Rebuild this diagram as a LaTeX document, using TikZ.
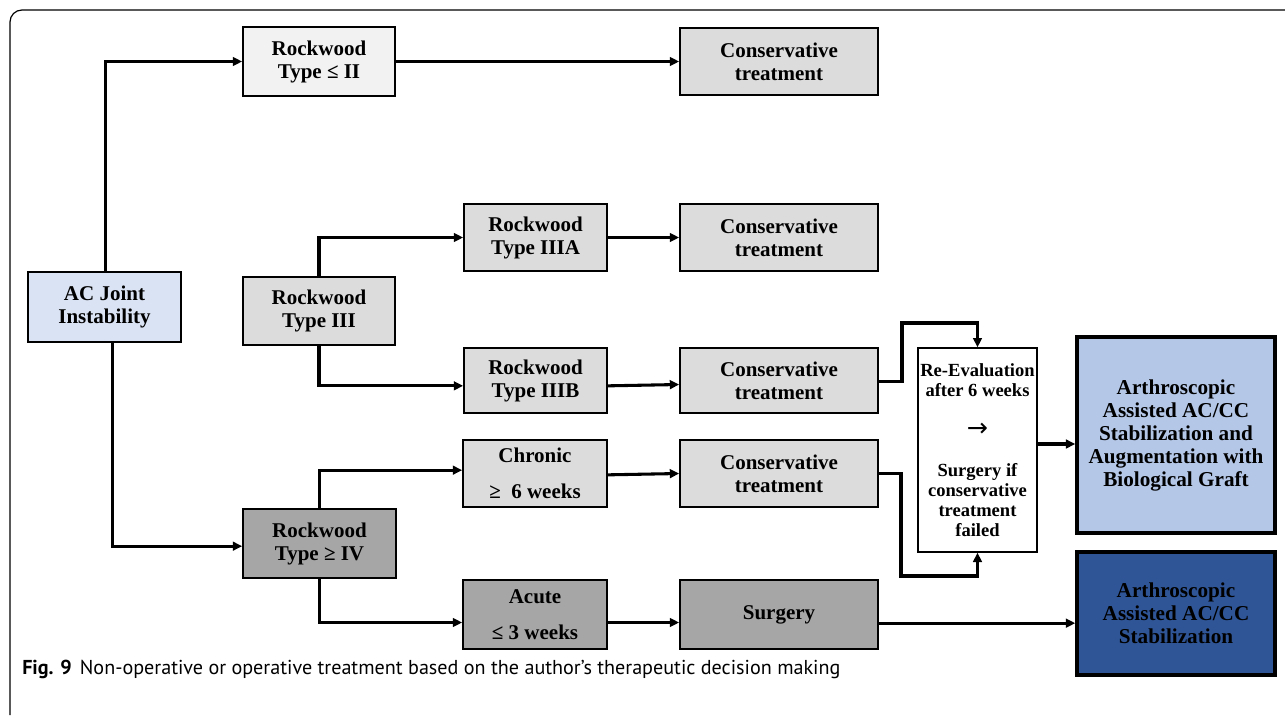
\documentclass[tikz,border=0pt]{standalone}
\usepackage{fontspec}
\setmainfont{Liberation Serif}
\newfontfamily\capfont{PT Sans}
\newfontfamily\symfont{DejaVu Sans}
\usetikzlibrary{arrows.meta}
\definecolor{acblue}{HTML}{DAE3F3}
\definecolor{vlgray}{HTML}{F2F2F2}
\definecolor{lgray}{HTML}{DCDCDC}
\definecolor{dgray}{HTML}{A6A6A6}
\definecolor{lblue}{HTML}{B4C7E7}
\definecolor{dblue}{HTML}{2F5597}
\begin{document}
\begin{tikzpicture}[x=0.75pt,y=-0.75pt,
  box/.style={draw=black,line width=1.3pt,inner sep=0pt,align=center,
    font=\fontsize{15.75pt}{17.25pt}\selectfont\bfseries},
  bigbox/.style={draw=black,line width=2.6pt,inner sep=0pt,align=center,
    font=\fontsize{15.9pt}{17.25pt}\selectfont\bfseries},
  conn/.style={line width=2.3pt,-{Triangle[length=7pt,width=6.5pt]}},
  frame/.style={line width=0.9pt}]
\useasboundingbox (0,0) rectangle (1285,715);
% frame
\draw[frame] (1285,10) -- (22,10) to[out=180,in=90] (10,22) -- (10,715);
% nodes
\node[box,fill=acblue,minimum width=114.75pt,minimum height=52.5pt] (ac) at (104.5,307) {AC Joint\\Instability};
\node[box,fill=vlgray,minimum width=114pt,minimum height=51.75pt] (r2) at (319,61.5) {Rockwood\\Type ≤ II};
\node[box,fill=lgray,minimum width=148.5pt,minimum height=50.25pt] (c1) at (779,61.5) {Conservative\\treatment};
\node[box,fill=lgray,minimum width=114pt,minimum height=51pt] (r3) at (319,311) {Rockwood\\Type III};
\node[box,fill=lgray,minimum width=107.25pt,minimum height=50.25pt] (r3a) at (535.5,237.5) {Rockwood\\Type IIIA};
\node[box,fill=lgray,minimum width=148.5pt,minimum height=50.25pt] (c2) at (779,237.5) {Conservative\\treatment};
\node[box,fill=lgray,minimum width=107.25pt,minimum height=48.75pt] (r3b) at (535.5,380.5) {Rockwood\\Type IIIB};
\node[box,fill=lgray,minimum width=148.5pt,minimum height=48.75pt] (c3) at (779,380.5) {Conservative\\treatment};
\node[box,fill=lgray,minimum width=108pt,minimum height=50.25pt] (chr) at (535,473.5) {Chronic\\[9.75pt]≥~ 6 weeks};
\node[box,fill=lgray,minimum width=148.5pt,minimum height=50.25pt] (c4) at (779,473.5) {Conservative\\treatment};
\node[box,fill=dgray,minimum width=114.75pt,minimum height=51.75pt] (r4) at (319.5,543.5) {Rockwood\\Type ≥ IV};
\node[box,fill=dgray,minimum width=108pt,minimum height=51.75pt] (acu) at (535,614.5) {Acute\\[9.75pt]≤ 3 weeks};
\node[box,fill=dgray,minimum width=148.5pt,minimum height=51.75pt] (surg) at (779,614.5) {Surgery};
\node[box,fill=white,line width=1pt,minimum width=89.25pt,minimum height=153pt,
  font=\fontsize{13.9pt}{15pt}\selectfont\bfseries] (reev) at (977.5,450)
  {Re-Evaluation\\after 6 weeks\\[15pt]\symfont\mdseries\fontsize{19pt}{15pt}\selectfont →\\[15pt]Surgery if\\conservative\\treatment\\failed};
\node[bigbox,fill=lblue,minimum width=148.5pt,minimum height=147pt] (art1) at (1176,435)
  {Arthroscopic\\Assisted AC/CC\\Stabilization and\\Augmentation with\\Biological Graft};
\node[bigbox,fill=dblue,minimum width=148.5pt,minimum height=92.25pt] (art2) at (1176,613.5)
  {Arthroscopic\\Assisted AC/CC\\Stabilization};
% connectors
\draw[conn] ([xshift=1pt]ac.north) |- (r2.west);
\draw[conn] ([xshift=6pt]ac.south) |- ([yshift=-2pt]r4.west);
\draw[conn] (r2.east) -- (c1.west);
\draw[conn] (r3.north) |- (r3a.west);
\draw[conn] (r3.south) |- ([yshift=-4pt]r3b.west);
\draw[conn] (r3a.east) -- (c2.west);
\draw[conn] ([yshift=-4pt]r3b.east) -- ([yshift=-3pt]c3.west);
\draw[conn] (r4.north) |- ([yshift=2.5pt]chr.west);
\draw[conn] (r4.south) |- ([yshift=-6pt]acu.west);
\draw[conn] ([yshift=-1pt]chr.east) -- (c4.west);
\draw[conn] ([yshift=-6pt]acu.east) -- ([yshift=-6pt]surg.west);
\coordinate (k1) at (902,323);
\coordinate (k2) at (901,576);
\draw[conn] ([yshift=-1pt]c3.east) -| (k1) -| (reev.north);
\draw[conn] (c4.east) -| (k2) -| (reev.south);
\draw[conn] ([yshift=4.5pt]reev.east) -- ([yshift=4.5pt]reev.east -| art1.west);
\draw[conn] ([yshift=-6.5pt]surg.east) -- ([yshift=-6.5pt]surg.east -| art2.west);
% caption
\node[anchor=base west,inner sep=0pt,font=\capfont\fontsize{15.1pt}{17pt}\selectfont] (cap) at (22,674)
  {\textbf{Fig. 9}\hspace{0.4em}Non-operative or operative treatment based on the author’s therapeutic decision making};
\end{tikzpicture}
\end{document}
